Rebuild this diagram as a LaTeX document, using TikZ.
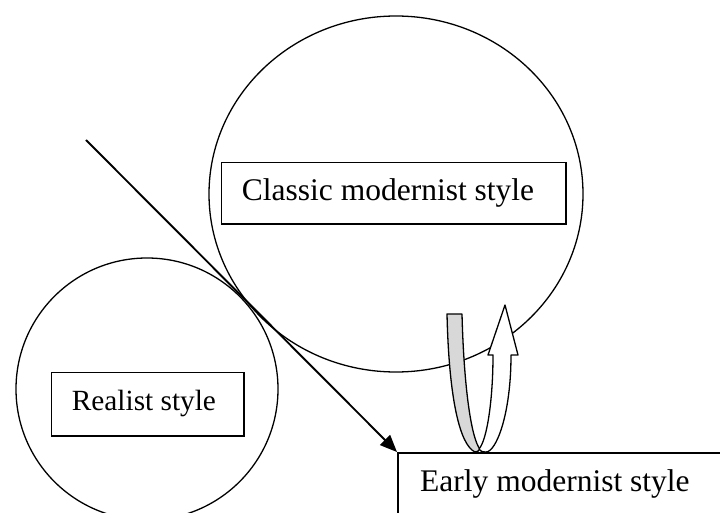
\documentclass[tikz,border=0pt]{standalone}
\usepackage{fontspec}
\setmainfont{Liberation Serif}
\usetikzlibrary{arrows.meta,shapes.geometric}
\definecolor{ribbongray}{RGB}{216,216,216}
\begin{document}
\begin{tikzpicture}[x=1pt,y=-1pt,
  ring/.style={draw=black,line width=1.3pt,inner sep=0pt},
  boxframe/.style={draw=black,line width=1.6pt,inner sep=0pt},
  lbl/.style={inner sep=0pt,font=\fontsize{31.5}{36}\selectfont},
  ribbon/.style={draw=black,line width=1.3pt,line join=round}]
\useasboundingbox (0,0) rectangle (720,513);
\clip (0,0) rectangle (720,513);
% circles
\node[ring,ellipse,minimum width=374pt,minimum height=356pt] (bigc) at (396,194) {};
\node[ring,circle,minimum size=262pt] (smallc) at (147,389) {};
% boxes
\node[boxframe,fill=white,anchor=north west,minimum width=344.3pt,minimum height=61.3pt] (classic) at (220.7,161.7) {};
\node[lbl,anchor=base west] (classictext) at (241.7,201) {Classic modernist style};
\node[boxframe,fill=white,anchor=north west,minimum width=192.6pt,minimum height=63.3pt] (realist) at (50.7,371.7) {};
\node[lbl,anchor=base west,font=\fontsize{29.3}{34}\selectfont] (realisttext) at (71.7,410) {Realist style};
\node[boxframe,fill=white,anchor=north west,minimum width=400pt,minimum height=120pt] (early) at (397,452) {};
\node[lbl,anchor=base west] (earlytext) at (420,491.5) {Early modernist style};
% straight arrow
\coordinate (start) at (86,140);
\draw[line width=1.9pt,-{Triangle[length=17pt,width=14pt]}] (start) -- (early.north west);
% U-turn ribbon arrow
\filldraw[ribbon,fill=ribbongray] (447,314) -- (462,314)
  .. controls (464,392) and (472,440) .. (480,449)
  .. controls (479,451) and (477,452) .. (475,452)
  .. controls (460,445) and (449,400) .. cycle;
\filldraw[ribbon,fill=white] (479,449)
  .. controls (487,440) and (493,400) .. (493,355)
  -- (488,355) -- (505,305) -- (518,355) -- (511,355)
  .. controls (511,415) and (496,452) .. (486,452)
  .. controls (482,452) and (480,451) .. cycle;
\end{tikzpicture}
\end{document}
